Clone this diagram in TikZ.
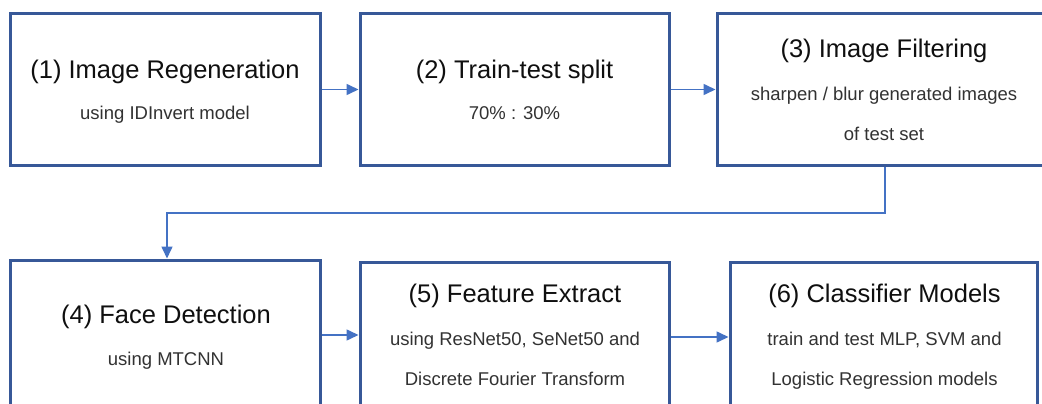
\documentclass[tikz,border=0pt]{standalone}
\usepackage{fontspec}
\setmainfont{Liberation Sans}
\usetikzlibrary{arrows.meta}
\definecolor{boxblue}{RGB}{55,88,152}
\definecolor{linkblue}{RGB}{68,114,196}
\definecolor{titlecol}{RGB}{15,15,15}
\definecolor{subcol}{RGB}{50,50,50}
\begin{document}
\begin{tikzpicture}[x=1pt,y=-1pt,
  box/.style={draw=boxblue, line width=3pt, rectangle, inner sep=0pt},
  ttl/.style={anchor=base, inner sep=0pt, text=titlecol, font=\fontsize{25.5}{30}\selectfont},
  sub/.style={anchor=base, inner sep=0pt, text=subcol, font=\fontsize{18.5}{22}\selectfont},
  link/.style={draw=linkblue, line width=1.6pt, -{Triangle[length=12pt,width=11pt]}}]
\useasboundingbox (0,0) rectangle (1042,404);
\clip (0,0) rectangle (1042,404);
\fill[white] (0,0) rectangle (1042,404);
% boxes
\node[box, minimum width=310pt, minimum height=151pt] (b1) at (165,89.5) {};
\node[box, minimum width=309pt, minimum height=151pt] (b2) at (514.5,89.5) {};
\node[box, minimum width=334pt, minimum height=151pt] (b3) at (884,89.5) {};
\node[box, minimum width=310pt, minimum height=150pt] (b4) at (165,335) {};
\node[box, minimum width=309pt, minimum height=150pt] (b5) at (514.5,337) {};
\node[box, minimum width=307pt, minimum height=150pt] (b6) at (883.5,337) {};
% texts
\node[ttl] (t1) at (165,79) {(1) Image Regeneration};
\node[sub] (s1) at (165,119) {using IDInvert model};
\node[ttl] (t2) at (514.5,79) {(2) Train-test split};
\node[sub] (s2) at (514.5,119) {70\% : 30\%};
\node[ttl] (t3) at (884,58) {(3) Image Filtering};
\node[sub] (s3a) at (884,100) {sharpen / blur generated images};
\node[sub] (s3b) at (884,140) {of test set};
\node[ttl] (t4) at (166,323) {(4) Face Detection};
\node[sub] (s4) at (166,365) {using MTCNN};
\node[ttl] (t5) at (515,302) {(5) Feature Extract};
\node[sub] (s5a) at (515,345) {using ResNet50, SeNet50 and};
\node[sub] (s5b) at (515,385) {Discrete Fourier Transform};
\node[ttl] (t6) at (884.5,302) {(6) Classifier Models};
\node[sub] (s6a) at (884.5,345) {train and test MLP, SVM and};
\node[sub] (s6b) at (884.5,385) {Logistic Regression models};
% connectors
\draw[link] (b1.east) -- (b2.west);
\draw[link] (b2.east) -- (b3.west);
\coordinate (c3) at (885,213);
\draw[link] (b3.south -| c3) -- (c3) -| ([xshift=2pt]b4.north);
\draw[link] (b4.east) -- (b5.west |- b4.east);
\draw[link] (b5.east) -- (b6.west);
\end{tikzpicture}
\end{document}
